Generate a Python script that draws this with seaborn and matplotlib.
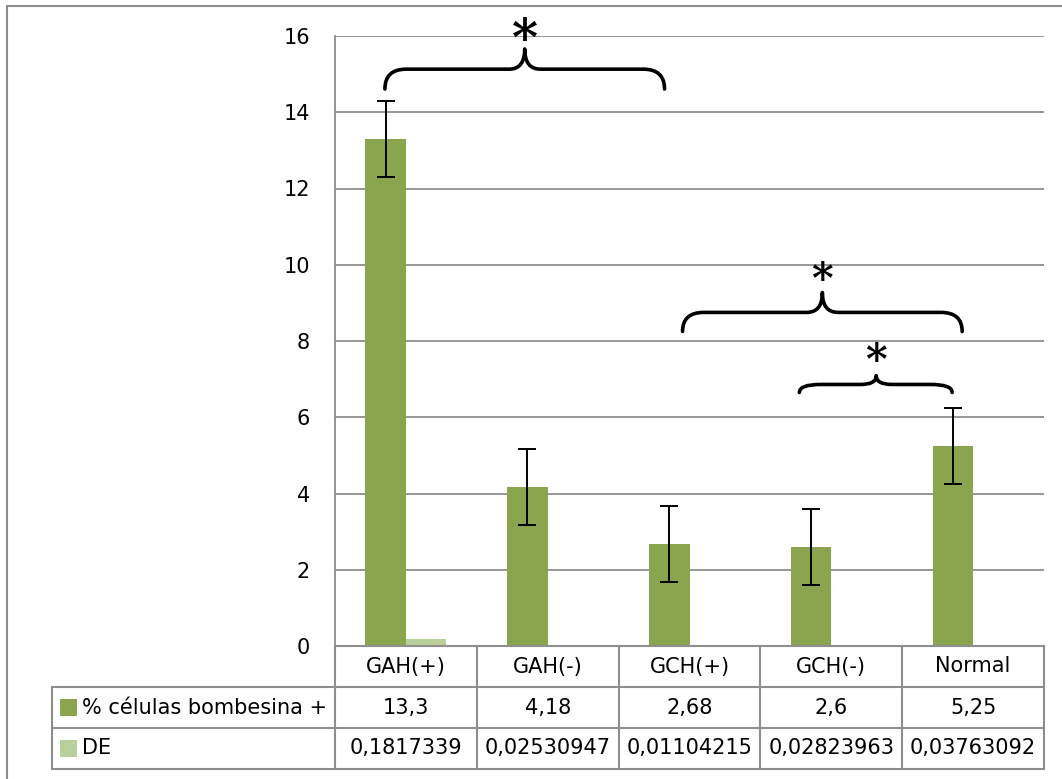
import numpy as np
import pandas as pd
import matplotlib
matplotlib.use("Agg")
import matplotlib.pyplot as plt
from matplotlib.path import Path
from matplotlib.patches import PathPatch, Rectangle
from matplotlib.lines import Line2D
import matplotlib.transforms as mtransforms
import seaborn as sns

# ---------------- data ----------------
categories = ["GAH(+)", "GAH(-)", "GCH(+)", "GCH(-)", "Normal"]
series_names = ["% células bombesina +", "DE"]
pct_values = [13.3, 4.18, 2.68, 2.6, 5.25]
de_values = [0.1817339, 0.02530947, 0.01104215, 0.02823963, 0.03763092]
err_values = [1.0, 1.0, 1.0, 1.0, 1.0]
y_ticks = [0, 2, 4, 6, 8, 10, 12, 14, 16]
# significance brackets: (left, right, tip) positions and (end, line, tip, star) heights
brackets_x = [(-0.148, 1.824, 0.838), (1.951, 3.923, 2.937), (2.775, 3.852, 3.317)]
brackets_y = [(14.61, 15.13, 15.66, 15.85), (8.25, 8.75, 9.27, 9.58), (6.65, 6.86, 7.09, 7.45)]
star_sizes = [36, 30, 30]

GREEN = "#8BA54E"
LIGHT = "#BAD09A"
GRID = "#8E8E8E"

sns.set_theme(style="white")
plt.rcParams["font.family"] = ["DejaVu Sans"]
plt.rcParams["text.color"] = "black"

W, H = 1062, 779
fig = plt.figure(figsize=(W / 100, H / 100), dpi=100)
fig.patch.set_facecolor("white")

def px(x, y):
    return x / W, 1 - y / H

ax_l, ax_r, ax_t, ax_b = 335, 1044, 36, 646
ax = fig.add_axes([ax_l / W, 1 - ax_b / H, (ax_r - ax_l) / W, (ax_b - ax_t) / H])

df = pd.DataFrame({
    "cat": categories * 2,
    "val": pct_values + de_values,
    "series": [series_names[0]] * len(categories) + [series_names[1]] * len(categories),
})
sns.barplot(data=df, x="cat", y="val", hue="series", order=categories,
            hue_order=series_names, palette=[GREEN, LIGHT], width=0.57, gap=0,
            errorbar=None, saturation=1, legend=False, linewidth=0, ax=ax)

green_bars = ax.patches[:len(categories)]
centers = [b.get_x() + b.get_width() / 2 for b in green_bars]
ax.errorbar(centers, pct_values, yerr=err_values, fmt="none", ecolor="black",
            elinewidth=1.4, capsize=6.5, capthick=1.4, zorder=5)

ax.set_xlim(-0.5, len(categories) - 0.5)
ax.set_ylim(0, 16)
ax.set_yticks(y_ticks)
ax.set_yticklabels([str(t) for t in y_ticks])
ax.tick_params(axis="y", length=0, pad=18, labelsize=15, labelcolor="black")
ax.tick_params(axis="x", length=0, labelbottom=False)
ax.set_xlabel("")
ax.set_ylabel("")
ax.yaxis.grid(True, color=GRID, lw=1.3)
ax.set_axisbelow(True)
for s in ["top", "right", "bottom"]:
    ax.spines[s].set_visible(False)
ax.spines["left"].set_color(GRID)
ax.spines["left"].set_linewidth(1.3)

# ---------------- significance brackets ----------------
rx_end = 0.15
rx_tip = 0.11
for (x0, x1, xm), (ye, yl, yt, ys), fs in zip(brackets_x, brackets_y, star_sizes):
    verts = [(x0, ye), (x0, yl), (x0 + rx_end, yl),
             (xm - rx_tip, yl),
             (xm, yl), (xm, yt),
             (xm, yl), (xm + rx_tip, yl),
             (x1 - rx_end, yl),
             (x1, yl), (x1, ye)]
    codes = [Path.MOVETO, Path.CURVE3, Path.CURVE3,
             Path.LINETO,
             Path.CURVE3, Path.CURVE3,
             Path.CURVE3, Path.CURVE3,
             Path.LINETO,
             Path.CURVE3, Path.CURVE3]
    ax.add_patch(PathPatch(Path(verts, codes), fill=False, lw=2.6, ec="black",
                           capstyle="round", joinstyle="round", clip_on=False, zorder=6))
    ax.text(xm, ys, "*", ha="center", va="center", fontsize=fs, fontweight="bold",
            family="DejaVu Serif", color="black", clip_on=False, zorder=6)

# ---------------- data table ----------------
tr = mtransforms.blended_transform_factory(ax.transData, ax.transAxes)
ah = ax_b - ax_t

def ay(ypx):
    return (ax_b - ypx) / ah

xl_px = 52
x_label_left = -0.5 - (ax_l - xl_px) / ((ax_r - ax_l) / len(categories))
rows_y = [646, 687, 728, 769]
lw_t = 1.5
ax.add_line(Line2D([-0.5, 4.5], [ay(rows_y[0])] * 2, transform=tr, color=GRID, lw=lw_t, clip_on=False))
for yy in rows_y[1:]:
    ax.add_line(Line2D([x_label_left, 4.5], [ay(yy)] * 2, transform=tr, color=GRID, lw=lw_t, clip_on=False))
for k in range(len(categories) + 1):
    xx = -0.5 + k
    ax.add_line(Line2D([xx, xx], [ay(rows_y[0]), ay(rows_y[3])], transform=tr, color=GRID, lw=lw_t, clip_on=False))
ax.add_line(Line2D([x_label_left, x_label_left], [ay(rows_y[1]), ay(rows_y[3])], transform=tr,
                   color=GRID, lw=lw_t, clip_on=False))

def fmt(v):
    return str(v).replace(".", ",")

fs_t = 15
for i, c in enumerate(categories):
    ax.text(i, ay((rows_y[0] + rows_y[1]) / 2), c, transform=tr, ha="center", va="center",
            fontsize=fs_t, color="black")
    ax.text(i, ay((rows_y[1] + rows_y[2]) / 2), fmt(pct_values[i]), transform=tr, ha="center",
            va="center", fontsize=fs_t, color="black")
    ax.text(i, ay((rows_y[2] + rows_y[3]) / 2), fmt(de_values[i]), transform=tr, ha="center",
            va="center", fontsize=fs_t, color="black")

for r, (name, col) in enumerate(zip(series_names, [GREEN, LIGHT])):
    yc = (rows_y[r + 1] + rows_y[r + 2]) / 2
    fig.add_artist(Rectangle(px(60, yc + 8.5), 17 / W, 17 / H, transform=fig.transFigure,
                             facecolor=col, edgecolor="none"))
    fig.text(82 / W, 1 - yc / H, name, ha="left", va="center", fontsize=fs_t, color="black")

# outer chart frame (left and top edges visible)
fig.add_artist(Line2D([7 / W, 7 / W], [1 - 6 / H, 0], transform=fig.transFigure, color=GRID, lw=1.5))
fig.add_artist(Line2D([7 / W, 1], [1 - 6 / H, 1 - 6 / H], transform=fig.transFigure, color=GRID, lw=1.5))

fig.savefig("out.png", dpi=100, facecolor="white")
